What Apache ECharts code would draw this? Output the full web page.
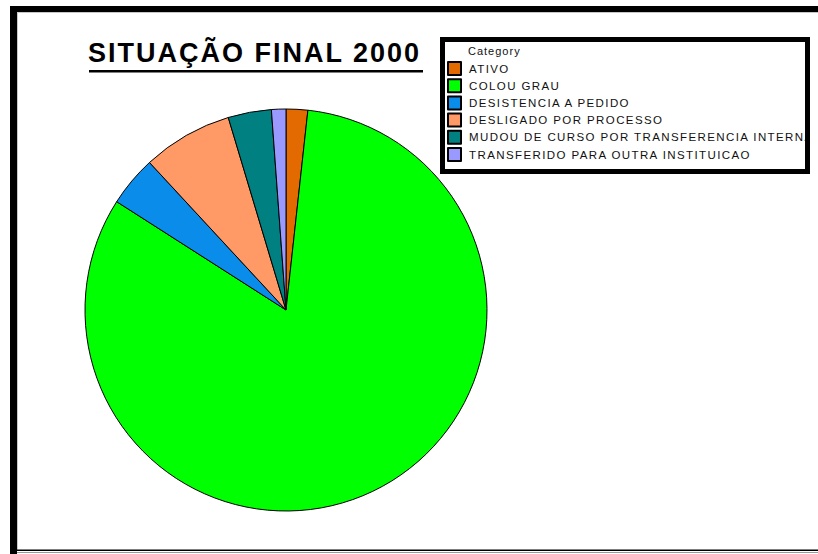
<!DOCTYPE html>
<html>
<head>
<meta charset="utf-8">
<script src="https://cdn.jsdelivr.net/npm/echarts@6/dist/echarts.min.js"></script>
<style>
  html, body { margin: 0; padding: 0; background: #ffffff; }
  #chart { width: 818px; height: 554px; }
  /* wide tracking on the SVG labels, by font size */
  #chart text { letter-spacing: 2px; }
  #chart text[style*="11.5px"] { letter-spacing: 1.4px; }
  #chart text[style*="11px"] { letter-spacing: 1px; }
</style>
</head>
<body>
<div id="chart"></div>
<script>
// Final status of the 2000 student cohort
const categories = [
  'ATIVO',
  'COLOU GRAU',
  'DESISTENCIA A PEDIDO',
  'DESLIGADO POR PROCESSO',
  'MUDOU DE CURSO POR TRANSFERENCIA INTERNA',
  'TRANSFERIDO PARA OUTRA INSTITUICAO'
];
const counts = [6, 284, 14, 25, 12, 4];
const sliceColors = ['#E36A00', '#00FF00', '#0A8CEB', '#FF9966', '#008080', '#9999FF'];
const chartTitle = 'SITUAÇÃO FINAL 2000';
const legendTitle = 'Category';

const FONT = '"Liberation Sans", Arial, sans-serif';

const chart = echarts.init(document.getElementById('chart'), null, { renderer: 'svg' });

const pieData = categories.map((name, i) => ({
  name: name,
  value: counts[i],
  itemStyle: { color: sliceColors[i] }
}));

chart.setOption({
  animation: false,
  backgroundColor: '#ffffff',
  title: {
    text: chartTitle,
    left: 88,
    top: 39,
    padding: 0,
    textStyle: { fontFamily: FONT, fontSize: 27, fontWeight: 'bold', color: '#000000' }
  },
  legend: {
    orient: 'vertical',
    left: 447,
    top: 61,
    padding: 0,
    itemWidth: 13,
    itemHeight: 13,
    itemGap: 2.2,
    icon: 'rect',
    selectedMode: false,
    textStyle: { fontFamily: FONT, fontSize: 11.5, color: '#111111', padding: [0, 0, 0, 3] },
    data: categories
  },
  graphic: [
    // outer frame
    { type: 'rect', shape: { x: 10, y: 6, width: 7, height: 548 }, style: { fill: '#000' }, z: 100 },
    { type: 'rect', shape: { x: 10, y: 6, width: 808, height: 6 }, style: { fill: '#000' }, z: 100 },
    { type: 'rect', shape: { x: 17, y: 12, width: 801, height: 1 }, style: { fill: '#c8c8c8' }, z: 100 },
    { type: 'rect', shape: { x: 17, y: 13, width: 1, height: 537 }, style: { fill: '#c8c8c8' }, z: 100 },
    { type: 'rect', shape: { x: 17, y: 549.5, width: 801, height: 1.5 }, style: { fill: '#000' }, z: 100 },
    { type: 'rect', shape: { x: 17, y: 552, width: 801, height: 1 }, style: { fill: '#9a9a9a' }, z: 100 },
    // title underline
    { type: 'rect', shape: { x: 89, y: 70, width: 334, height: 2.5 }, style: { fill: '#000' }, z: 100 },
    // legend box and heading
    { type: 'rect', shape: { x: 442.5, y: 39.5, width: 365, height: 132 },
      style: { fill: null, stroke: '#000', lineWidth: 5 }, z: 100 },
    { type: 'rect', shape: { x: 810, y: 42, width: 8, height: 128 }, style: { fill: '#fff' }, z: 99 },
    { type: 'text', x: 468, y: 45,
      style: { text: legendTitle, fontFamily: FONT, fontSize: 11, fill: '#111111' }, z: 100 }
  ],
  series: [{
    type: 'pie',
    center: [286, 310],
    radius: 201,
    startAngle: 90,
    clockwise: true,
    label: { show: false },
    labelLine: { show: false },
    emphasis: { disabled: true },
    itemStyle: { borderColor: '#000000', borderWidth: 1 },
    data: pieData
  }]
});
</script>
</body>
</html>
